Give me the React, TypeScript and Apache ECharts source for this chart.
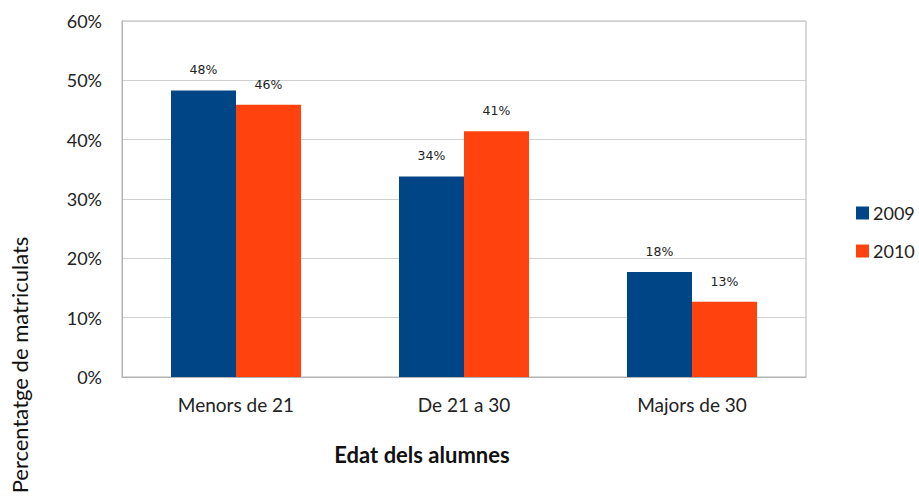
import React, { useEffect, useRef } from "react";
import * as echarts from "echarts";

const categories = ["Menors de 21", "De 21 a 30", "Majors de 30"];
const values2009 = [48.3, 33.8, 17.7];
const values2010 = [45.9, 41.4, 12.7];
const seriesNames = ["2009", "2010"];
const yTicks = [0, 10, 20, 30, 40, 50, 60];

export default function App() {
  const ref = useRef<HTMLDivElement>(null);
  useEffect(() => {
    if (!ref.current) return;
    const chart = echarts.init(ref.current, undefined, { renderer: "svg" });
    const labelCfg = {
      show: true,
      position: "top" as const,
      distance: 14,
      fontFamily: "DejaVu Sans",
      fontSize: 12.5,
      color: "#222",
      formatter: (p: any) => Math.round(p.value) + "%",
    };
    chart.setOption({
      animation: false,
      backgroundColor: "#fff",
      grid: { left: 122, top: 21, width: 684, height: 356, show: true, borderColor: "#b3b3b3", borderWidth: 1 },
      legend: {
        orient: "vertical",
        left: 856,
        top: 204,
        padding: 0,
        itemWidth: 13,
        itemHeight: 13,
        itemGap: 20,
        icon: "rect",
        textStyle: { fontFamily: "Lato", fontSize: 18, color: "#222", padding: [0, 0, 0, -1] },
        data: seriesNames,
      },
      xAxis: {
        type: "category",
        data: categories,
        axisTick: { show: false },
        axisLine: { lineStyle: { color: "#b3b3b3" } },
        axisLabel: { fontFamily: "Lato", fontSize: 19, color: "#222", margin: 18 },
      },
      yAxis: {
        type: "value",
        min: yTicks[0],
        max: yTicks[yTicks.length - 1],
        interval: 10,
        axisLabel: { formatter: "{value}%", fontFamily: "Lato", fontSize: 18, color: "#222", margin: 20 },
        splitLine: { lineStyle: { color: "#d0d0d0" } },
        axisLine: { show: true, lineStyle: { color: "#b3b3b3" } },
      },
      graphic: [
        {
          type: "text",
          x: 19,
          y: 365,
          rotation: Math.PI / 2,
          style: {
            text: "Percentatge de matriculats",
            fontFamily: "Lato",
            fontSize: 22,
            fill: "#111",
            align: "center",
            verticalAlign: "middle",
          },
        },
        {
          type: "text",
          x: 422,
          y: 454,
          style: {
            text: "Edat dels alumnes",
            fontFamily: "Lato",
            fontWeight: "bold",
            fontSize: 22,
            fill: "#111",
            align: "center",
            verticalAlign: "middle",
          },
        },
      ],
      series: [
        {
          name: seriesNames[0],
          type: "bar",
          data: values2009,
          barWidth: 65,
          barGap: "0%",
          itemStyle: { color: "#004586" },
          label: labelCfg,
        },
        {
          name: seriesNames[1],
          type: "bar",
          data: values2010,
          barWidth: 65,
          barGap: "0%",
          itemStyle: { color: "#ff420e" },
          label: labelCfg,
        },
      ],
    });
    return () => chart.dispose();
  }, []);
  return (
    <div
      ref={ref}
      style={{ position: "fixed", left: 0, top: 0, width: 919, height: 502 }}
    />
  );
}
